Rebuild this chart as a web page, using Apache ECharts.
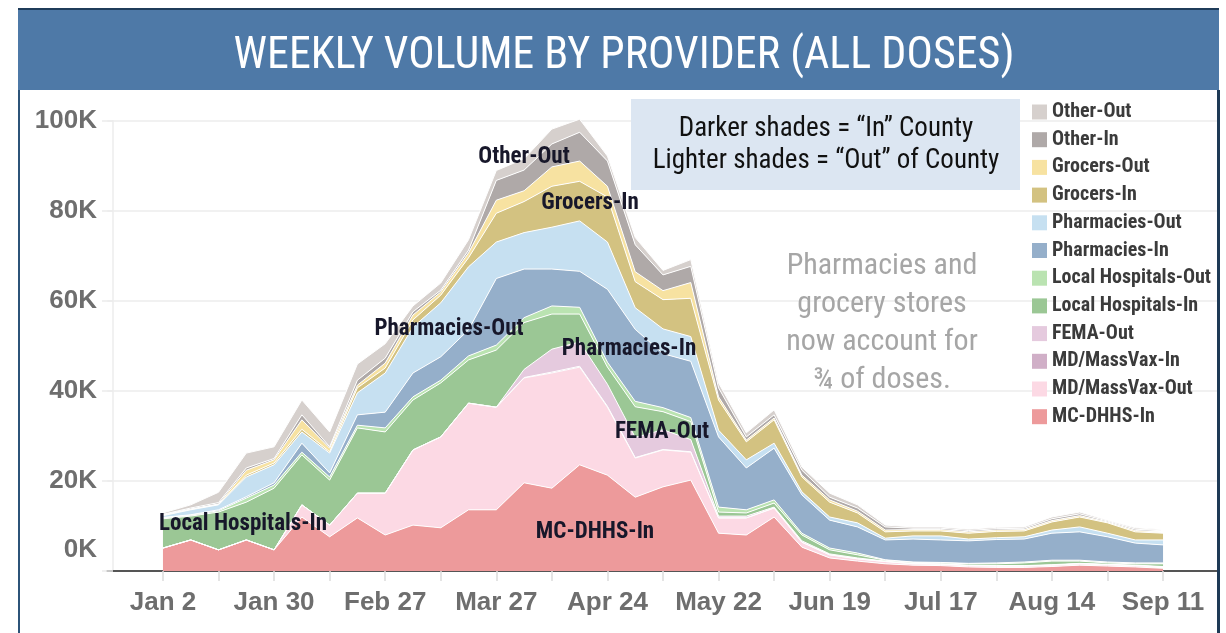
<!DOCTYPE html>
<html>
<head>
<meta charset="utf-8">
<title>Weekly Volume by Provider (All Doses)</title>
<script src="https://cdn.jsdelivr.net/npm/echarts@6/dist/echarts.min.js"></script>
<style>
  html, body { margin: 0; padding: 0; background: #fff; }
  #chart { width: 1226px; height: 633px; }
</style>
</head>
<body>
<div id="chart"></div>
<script>
// weekly categories; two empty weeks of axis on each side of the data
const weeks = [
  "Dec 19", "Dec 26",
  "Jan 2", "Jan 9", "Jan 16", "Jan 23", "Jan 30", "Feb 6", "Feb 13", "Feb 20", "Feb 27",
  "Mar 6", "Mar 13", "Mar 20", "Mar 27", "Apr 3", "Apr 10", "Apr 17", "Apr 24",
  "May 1", "May 8", "May 15", "May 22", "May 29", "Jun 5", "Jun 12", "Jun 19", "Jun 26",
  "Jul 3", "Jul 10", "Jul 17", "Jul 24", "Jul 31", "Aug 7", "Aug 14", "Aug 21", "Aug 28",
  "Sep 4", "Sep 11",
  "Sep 18", "Sep 25"
];
const firstDataWeek = 2;
const tickLabels = ["Jan 2", "Jan 30", "Feb 27", "Mar 27", "Apr 24", "May 22", "Jun 19", "Jul 17", "Aug 14", "Sep 11"];

// doses per week (Jan 2 .. Sep 11), stacked bottom to top
const mcDhhsIn = [5100, 6900, 4700, 6900, 4700, 12000, 7600, 11800, 8000, 10200, 9600, 13600, 13600, 19600, 18400, 23600, 21300, 16400, 18700, 20200, 8400, 8000, 12000, 5300, 2900, 2200, 1600, 1300, 1200, 900, 800, 800, 1000, 1300, 1100, 900, 600];
const massVaxOut = [0, 0, 0, 0, 0, 2700, 2600, 5500, 9300, 16700, 20200, 23700, 22800, 23300, 25600, 21700, 15100, 8700, 8200, 6200, 3400, 3800, 2000, 1100, 700, 500, 500, 300, 300, 300, 300, 300, 300, 300, 300, 300, 300];
const massVaxIn = [0, 0, 0, 0, 0, 0, 0, 0, 0, 0, 0, 0, 0, 100, 200, 200, 200, 100, 100, 100, 0, 0, 0, 0, 0, 0, 0, 0, 0, 0, 0, 0, 0, 0, 0, 0, 0];
const femaOut = [0, 0, 0, 0, 0, 0, 0, 0, 0, 0, 0, 0, 0, 1800, 5100, 5400, 4900, 4500, 4400, 2700, 400, 400, 200, 300, 200, 200, 100, 100, 100, 100, 100, 100, 100, 100, 100, 100, 100];
const hospIn = [6500, 5300, 8400, 8400, 13700, 11100, 10000, 14500, 13600, 11100, 12000, 9600, 12700, 10400, 7800, 6200, 3800, 6800, 4000, 4000, 900, 700, 900, 1300, 900, 700, 200, 200, 200, 300, 400, 600, 800, 500, 300, 300, 600];
const hospOut = [200, 200, 300, 900, 700, 600, 700, 600, 900, 700, 600, 900, 1100, 1100, 1800, 1500, 1100, 1200, 900, 900, 1100, 700, 700, 400, 400, 400, 100, 100, 100, 100, 200, 200, 200, 200, 200, 200, 200];
const pharmIn = [100, 100, 200, 300, 500, 2000, 900, 2300, 3500, 5300, 5200, 5800, 14800, 10800, 8200, 8000, 16200, 16000, 12000, 12500, 15600, 9300, 11500, 8500, 6200, 5800, 4400, 5100, 5000, 5000, 5200, 5100, 6000, 6300, 5600, 4400, 4000];
const pharmOut = [400, 1100, 1100, 4400, 4000, 2500, 4400, 4900, 8700, 10200, 12000, 14000, 8100, 8100, 9300, 11200, 10500, 4800, 5500, 5500, 1500, 1800, 1100, 700, 700, 900, 400, 700, 900, 400, 400, 500, 700, 1100, 800, 700, 1100];
const grocIn = [100, 100, 100, 400, 400, 600, 300, 1100, 1100, 1600, 1700, 2000, 6400, 6900, 9100, 8800, 10000, 5800, 6500, 8500, 6700, 4000, 5200, 3300, 3300, 2200, 1400, 1100, 1100, 1300, 1400, 1300, 1800, 2200, 2300, 1800, 1500];
const grocOut = [100, 100, 100, 1100, 700, 2100, 800, 600, 1100, 1100, 700, 1100, 2900, 2400, 4300, 4500, 2400, 2200, 2000, 3500, 700, 400, 400, 400, 500, 400, 400, 300, 300, 300, 300, 300, 300, 300, 200, 300, 200];
const otherIn = [100, 200, 300, 500, 300, 1100, 300, 1100, 1100, 700, 400, 600, 4400, 4600, 5100, 6400, 5600, 6000, 3500, 3600, 2000, 700, 700, 1100, 600, 700, 700, 300, 300, 300, 300, 300, 400, 400, 200, 300, 300];
const otherOut = [300, 700, 2300, 3300, 2600, 3300, 3300, 3600, 3200, 1300, 1600, 2300, 2200, 2500, 3300, 2900, 1100, 1600, 1000, 1500, 1100, 900, 1100, 700, 900, 700, 400, 300, 300, 300, 300, 300, 400, 400, 200, 300, 300];

// stack order, bottom first
const providers = [
  ["MC-DHHS-In", mcDhhsIn],
  ["MD/MassVax-Out", massVaxOut],
  ["MD/MassVax-In", massVaxIn],
  ["FEMA-Out", femaOut],
  ["Local Hospitals-In", hospIn],
  ["Local Hospitals-Out", hospOut],
  ["Pharmacies-In", pharmIn],
  ["Pharmacies-Out", pharmOut],
  ["Grocers-In", grocIn],
  ["Grocers-Out", grocOut],
  ["Other-In", otherIn],
  ["Other-Out", otherOut]
];

const colors = {
  "MC-DHHS-In": "#ed9a9b",
  "MD/MassVax-Out": "#fcd9e4",
  "MD/MassVax-In": "#d0afc7",
  "FEMA-Out": "#e5cade",
  "Local Hospitals-In": "#9bc795",
  "Local Hospitals-Out": "#bae3b1",
  "Pharmacies-In": "#95afca",
  "Pharmacies-Out": "#c6e0f1",
  "Grocers-In": "#d3c281",
  "Grocers-Out": "#f7e2a1",
  "Other-In": "#afa9a8",
  "Other-Out": "#d6d0cd"
};

const CONDENSED = '"Roboto Condensed", "Liberation Sans Narrow", sans-serif';
const SANS = '"Liberation Sans", Arial, sans-serif';
const AXIS_GREY = "#6e6e6e";

function padWeeks(values) {
  const lead = new Array(firstDataWeek).fill(null);
  const tail = new Array(weeks.length - firstDataWeek - values.length).fill(null);
  return lead.concat(values, tail);
}

function areaLabel(text, x, y) {
  return {
    type: "text",
    x: x,
    y: y,
    z: 100,
    style: {
      text: text,
      fill: "#17172a",
      font: "bold 23px " + CONDENSED,
      align: "center",
      verticalAlign: "middle"
    }
  };
}

const chart = echarts.init(document.getElementById("chart"));

chart.setOption({
  animation: false,
  backgroundColor: "#ffffff",
  title: {
    text: "WEEKLY VOLUME BY PROVIDER (ALL DOSES)",
    left: 619,
    textAlign: "center",
    top: 30,
    textStyle: {
      color: "#ffffff",
      fontFamily: CONDENSED,
      fontWeight: "normal",
      fontSize: 44
    }
  },
  legend: {
    orient: "vertical",
    left: 1027,
    top: 97,
    icon: "rect",
    itemWidth: 15,
    itemHeight: 15,
    itemGap: 7.7,
    selectedMode: false,
    data: providers.slice().reverse().map(([name]) => ({
      name: name,
      itemStyle: { color: colors[name], borderWidth: 0 }
    })),
    textStyle: {
      fontFamily: CONDENSED,
      fontWeight: "bold",
      fontSize: 20,
      lineHeight: 20,
      color: "#3b3b3b"
    }
  },
  grid: { left: 107.4, right: 7.4, top: 121, bottom: 62 },
  xAxis: {
    type: "category",
    data: weeks,
    boundaryGap: false,
    splitLine: { show: false },
    axisLine: { show: true, onZero: false, lineStyle: { color: "#555555", width: 2 } },
    axisTick: {
      show: true,
      interval: (i) => i >= firstDataWeek && i <= weeks.length - 3 && (i - firstDataWeek) % 2 === 0,
      length: 10,
      lineStyle: { color: "#dcdcdc", width: 1.5 }
    },
    axisLabel: {
      interval: (i, value) => tickLabels.includes(value),
      margin: 19,
      color: AXIS_GREY,
      fontFamily: SANS,
      fontWeight: "bold",
      fontSize: 26
    }
  },
  yAxis: {
    type: "value",
    min: 0,
    max: 100000,
    interval: 20000,
    offset: -5.6,
    axisLine: { show: true, lineStyle: { color: "#ececec", width: 1.5 } },
    axisTick: { show: true, length: 11, lineStyle: { color: "#ececec", width: 1.5 } },
    splitLine: { lineStyle: { color: "#ececec", width: 1.5 } },
    axisLabel: {
      margin: 16,
      color: AXIS_GREY,
      fontFamily: SANS,
      fontWeight: "bold",
      fontSize: 26,
      formatter: (v) => (v === 0 ? "{zero|0K}" : v / 1000 + "K"),
      rich: {
        zero: {
          color: AXIS_GREY,
          fontFamily: SANS,
          fontWeight: "bold",
          fontSize: 26,
          padding: [0, 0, 42, 0]
        }
      }
    }
  },
  series: providers.map(([name, values]) => ({
    name: name,
    type: "line",
    stack: "total",
    data: padWeeks(values),
    symbol: "none",
    showSymbol: false,
    silent: true,
    clip: false,
    itemStyle: { color: colors[name] },
    lineStyle: { color: "#ffffff", width: 1 },
    areaStyle: { color: colors[name], opacity: 1 },
    emphasis: { disabled: true }
  })),
  graphic: [
    { type: "rect", z: 0, shape: { x: 18, y: 8, width: 1201, height: 82 }, style: { fill: "#4e79a7" } },
    { type: "rect", z: 1, shape: { x: 18, y: 8, width: 1201, height: 2 }, style: { fill: "#1f3c5a" } },
    { type: "rect", z: 1, shape: { x: 18, y: 90, width: 2, height: 543 }, style: { fill: "#2c5378" } },
    { type: "rect", z: 1, shape: { x: 1217, y: 90, width: 3, height: 543 }, style: { fill: "#1e3a56" } },
    { type: "rect", z: 1, shape: { x: 631, y: 99, width: 389, height: 91 }, style: { fill: "#dce6f2" } },
    {
      type: "text",
      x: 826,
      y: 145,
      z: 100,
      style: {
        text: "Darker shades = \u201cIn\u201d County\nLighter shades = \u201cOut\u201d of County",
        fill: "#111111",
        font: "27px " + CONDENSED,
        lineHeight: 32,
        align: "center",
        verticalAlign: "middle"
      }
    },
    {
      type: "text",
      x: 882,
      y: 323,
      z: 100,
      style: {
        text: "Pharmacies and\ngrocery stores\nnow account for\n\u00be of doses.",
        fill: "#a6a6a6",
        font: "30px " + CONDENSED,
        lineHeight: 38,
        align: "center",
        verticalAlign: "middle"
      }
    },
    areaLabel("Other-Out", 524, 157),
    areaLabel("Grocers-In", 590, 203),
    areaLabel("Pharmacies-Out", 449, 329),
    areaLabel("Pharmacies-In", 629, 349),
    areaLabel("FEMA-Out", 662, 432),
    areaLabel("MC-DHHS-In", 595, 532),
    areaLabel("Local Hospitals-In", 243, 524)
  ]
});

window.addEventListener("resize", () => chart.resize());
</script>
</body>
</html>
